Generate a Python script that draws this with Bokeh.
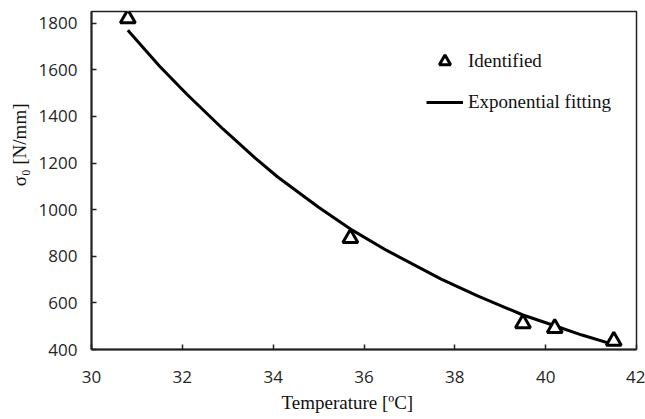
from bokeh.plotting import figure
from bokeh.models import Legend, LegendItem, Range1d, FixedTicker, Title
from bokeh.embed import file_html
from bokeh.resources import INLINE

# Identified points
temp_identified = [30.8, 35.7, 39.5, 40.2, 41.5]
sigma_identified = [1820, 878, 512, 492, 437]

# Exponential fitting curve
temp_fit = [30.8, 31.5, 32.1, 32.9, 33.6, 34.1, 35.0, 35.75, 36.5, 37.7, 38.5, 39.5, 40.2, 40.8, 41.5]
sigma_fit = [1770, 1615, 1495, 1345, 1222, 1140, 1010, 911, 825, 702, 630, 548, 502, 462, 421]

x_ticks = [30, 32, 34, 36, 38, 40, 42]
y_ticks = [400, 600, 800, 1000, 1200, 1400, 1600, 1800]

p = figure(width=645, height=419, output_backend="svg", toolbar_location=None,
           x_range=Range1d(30, 42), y_range=Range1d(400, 1850),
           min_border_left=90, min_border_right=9, min_border_top=11, min_border_bottom=70)
p.xgrid.visible = False
p.ygrid.visible = False
p.outline_line_color = "#222222"
p.outline_line_width = 1.5
p.background_fill_color = "white"
p.border_fill_color = "white"

for ax, ticks in ((p.xaxis, x_ticks), (p.yaxis, y_ticks)):
    ax.ticker = FixedTicker(ticks=ticks)
    ax.major_tick_in = 5
    ax.major_tick_out = 0
    ax.minor_tick_line_color = None
    ax.axis_line_color = "#222222"
    ax.axis_line_width = 2
    ax.major_tick_line_color = "#222222"
    ax.major_tick_line_width = 1.5
    ax.major_label_text_font = "Open Sans"
    ax.major_label_text_font_size = "17px"
    ax.major_label_text_color = "#262626"
p.xaxis.major_label_standoff = 21
p.yaxis.major_label_standoff = 14

p.add_layout(Title(text="σ₀ [N/mm]", align="right", offset=92, standoff=12,
                   text_font="Liberation Serif", text_font_size="19px",
                   text_font_style="normal", text_color="#111111"), "left")
p.add_layout(Title(text="Temperature  [ºC]", align="left", offset=190, standoff=8,
                   text_font="Liberation Serif", text_font_size="19px",
                   text_font_style="normal", text_color="#111111"), "below")

line = p.line(temp_fit, sigma_fit, line_color="black", line_width=3)
pts = p.scatter(temp_identified, sigma_identified, marker="triangle", size=15,
                fill_color="white", line_color="black", line_width=3)

legend = Legend(items=[LegendItem(label="Identified", renderers=[pts]),
                       LegendItem(label="Exponential fitting", renderers=[line])],
                location=(335, 233), padding=0, margin=0, spacing=13,
                glyph_width=37, glyph_height=28, label_standoff=5,
                label_text_font="Liberation Serif", label_text_font_size="19px",
                label_text_color="#111111",
                border_line_color=None, background_fill_alpha=0)
p.add_layout(legend)

open("out.html", "w").write(file_html(p, INLINE))
